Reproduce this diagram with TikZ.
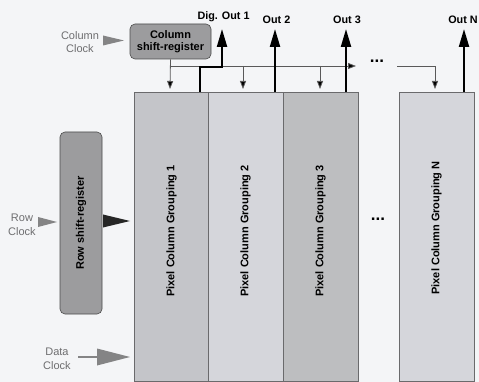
\documentclass[tikz,border=0pt]{standalone}
\usepackage{fontspec}
\setmainfont{Liberation Sans}
\usetikzlibrary{arrows.meta}
\definecolor{bg}{HTML}{F4F5F7}
\definecolor{colA}{HTML}{C4C5C9}
\definecolor{colB}{HTML}{D5D6DB}
\definecolor{colC}{HTML}{BDBEC0}
\definecolor{srfill}{HTML}{9C9C9E}
\definecolor{labgray}{HTML}{6E6E70}
\definecolor{edgegray}{HTML}{6A6A6C}
\tikzset{
  colbox/.style={draw=edgegray, line width=0.6pt, anchor=north west, minimum width=#1, minimum height=289pt, inner sep=0pt},
  coltext/.style={rotate=90, font=\bfseries\fontsize{11}{12}\selectfont},
  srbox/.style={draw=black!70, fill=srfill, rounded corners=5pt, line width=0.6pt, inner sep=0pt, align=center, font=\bfseries\fontsize{11}{12.5}\selectfont},
  clklab/.style={text=labgray, align=center, font=\fontsize{11}{13.5}\selectfont},
  outlab/.style={font=\bfseries\fontsize{10.8}{11}\selectfont, anchor=base},
  outarrow/.style={line width=2.2pt, -{Triangle[length=18pt,width=10pt]}},
  clkline/.style={line width=0.8pt, draw=black!65},
  clkarrow/.style={clkline, -{Triangle[length=8pt,width=6pt,fill=black]}},
  graytri/.style={fill=labgray!85, draw=none},
  dotsstyle/.style={font=\bfseries\fontsize{17}{17}\selectfont},
}
\begin{document}
\begin{tikzpicture}[x=1pt,y=-1pt]
\useasboundingbox (0,0) rectangle (479,382);
\fill[bg] (0,0) rectangle (479,382);

% columns
\node[colbox=74pt, fill=colA] (c1) at (134,92) {};
\node[colbox=75pt, fill=colB] (c2) at (208,92) {};
\node[colbox=75pt, fill=colC] (c3) at (283,92) {};
\node[colbox=75pt, fill=colB] (cN) at (399,92) {};
\node[coltext] (t1) at (171.5,231) {Pixel Column Grouping 1};
\node[coltext] (t2) at (245.5,231) {Pixel Column Grouping 2};
\node[coltext] (t3) at (320.5,231) {Pixel Column Grouping 3};
\node[coltext] (tN) at (436.5,228) {Pixel Column Grouping N};
\node[dotsstyle] (dotsmid) at (378,219) {...};

% column shift register
\node[srbox, minimum width=81pt, minimum height=35pt] (csr) at (170.5,41.5) {Column\\shift-register};
\node[clklab] (cclk) at (80,42) {Column\\Clock};
\fill[graytri] (103,35.5) -- (124,40.5) -- (103,45.5) -- cycle;

% row shift register
\node[srbox, minimum width=42pt, minimum height=182pt] (rsr) at (81,223) {};
\node[rotate=90, font=\bfseries\fontsize{11}{12}\selectfont] (rsrt) at (rsr.center) {Row shift-register};
\node[clklab] (rclk) at (22,225) {Row\\Clock};
\fill[graytri] (38,217) -- (57,222) -- (38,227) -- cycle;
\fill[black!85] (103,214.5) -- (130,221) -- (103,227.5) -- cycle;

% data clock
\node[clklab] (dclk) at (57,359) {Data\\Clock};
\draw[labgray!85, line width=2.6pt] (78,357) -- (99,357);
\fill[graytri] (97,348.5) -- (130,357) -- (97,365.5) -- cycle;

% clock distribution lines
\coordinate (h0) at (170,66);
\coordinate (h2) at (243,66);
\coordinate (h3) at (320,66);
\coordinate (hend) at (356,66);
\coordinate (hN0) at (397,66);
\coordinate (hN) at (435,66);
\draw[clkarrow] (csr.south) -- (170,89);
\draw[clkarrow] (h0) -- (hend);
\draw[clkarrow] (h2) -- (243,89);
\draw[clkarrow] (h3) -- (320,89);
\draw[clkarrow] (hN0) -- (hN) -- (435,89);
\node[dotsstyle] (dotstop) at (377,61) {...};

% outputs
\coordinate (o1a) at (200,92);
\coordinate (o1b) at (200,67);
\coordinate (o1c) at (222,67);
\coordinate (o1) at (222,29);
\draw[outarrow] (o1a) -- (o1b) -- (o1c) -- (o1);
\node[outlab] (l1) at (223.5,20) {Dig. Out 1};

\coordinate (o2) at (275,29);
\draw[outarrow] (c2.north -| o2) -- (o2);
\node[outlab] (l2) at (276.5,24) {Out 2};

\coordinate (o3) at (346,29);
\draw[outarrow] (c3.north -| o3) -- (o3);
\node[outlab] (l3) at (347,24) {Out 3};

\coordinate (oN) at (464,29);
\draw[outarrow] (cN.north -| oN) -- (oN);
\node[outlab] (lN) at (463,24) {Out N};
\end{tikzpicture}
\end{document}
